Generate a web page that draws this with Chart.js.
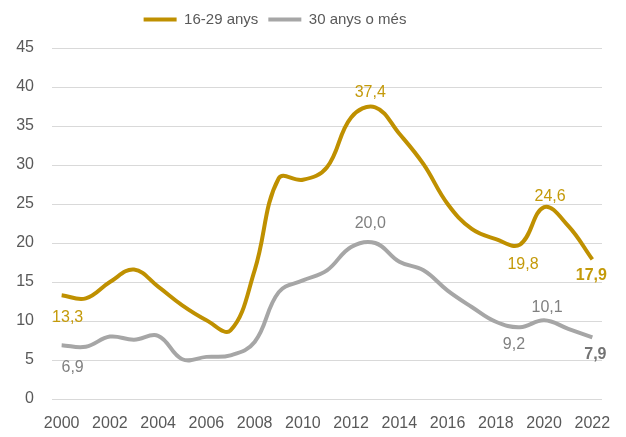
<!DOCTYPE html>
<html>
<head>
<meta charset="utf-8">
<script src="https://cdn.jsdelivr.net/npm/chart.js@4/dist/chart.umd.min.js"></script>
<style>
  html, body { margin: 0; padding: 0; background: #fff; }
  #wrap { width: 626px; height: 437px; position: relative; }
</style>
</head>
<body>
<div id="wrap"><canvas id="c" width="626" height="437"></canvas></div>
<script>
const years = [2000,2001,2002,2003,2004,2005,2006,2007,2008,2009,2010,2011,2012,2013,2014,2015,2016,2017,2018,2019,2020,2021,2022];
const young = [13.3,12.9,15.0,16.6,14.4,12.0,10.1,8.8,16.5,28.3,28.1,29.7,36.1,37.4,34.0,30.1,25.0,21.8,20.5,19.8,24.6,22.2,17.9];
const older = [6.9,6.7,8.0,7.6,8.1,5.1,5.4,5.6,7.3,13.7,15.2,16.5,19.5,20.0,17.6,16.5,13.9,11.8,9.9,9.2,10.1,9.0,7.9];
const seriesNames = ['16-29 anys', '30 anys o més'];
const yTicks = [0,5,10,15,20,25,30,35,40,45];

const GOLD = '#BF9000';
const GRAY = '#A6A6A6';
const FONT = "'Liberation Sans', Arial, sans-serif";

// labelled points: dataset, index, offsets (px), style
const pointLabels = [
  {ds:0, i:0,  dx:6,  dy:22,  color:'#C49A0A', bold:false},
  {ds:0, i:13, dx:-5, dy:-15, color:'#C49A0A', bold:false},
  {ds:0, i:19, dx:3,  dy:20,  color:'#C49A0A', bold:false},
  {ds:0, i:20, dx:6,  dy:-11, color:'#C49A0A', bold:false},
  {ds:0, i:22, dx:-1, dy:16,  color:'#C49A0A', bold:true},
  {ds:1, i:0,  dx:11, dy:22,  color:'#808080', bold:false},
  {ds:1, i:13, dx:-5, dy:-19, color:'#808080', bold:false},
  {ds:1, i:19, dx:-6, dy:17,  color:'#808080', bold:false},
  {ds:1, i:20, dx:3,  dy:-13, color:'#808080', bold:false},
  {ds:1, i:22, dx:3,  dy:17,  color:'#737373', bold:true}
];

const labelPlugin = {
  id: 'pointLabels',
  afterDatasetsDraw(chart) {
    const ctx = chart.ctx;
    ctx.save();
    ctx.textAlign = 'center';
    ctx.textBaseline = 'middle';
    pointLabels.forEach(l => {
      const meta = chart.getDatasetMeta(l.ds);
      const el = meta.data[l.i];
      const v = chart.data.datasets[l.ds].data[l.i].y;
      ctx.font = (l.bold ? 'bold ' : '') + '16px ' + FONT;
      ctx.fillStyle = l.color;
      ctx.fillText(v.toFixed(1).replace('.', ','), el.x + l.dx, el.y + l.dy);
    });
    ctx.restore();
  }
};

const legendAdjust = {
  id: 'legendAdjust',
  beforeInit(chart) {
    const lg = chart.legend;
    const fit = lg.fit;
    lg.fit = function() { fit.call(this); this.height += 11; };
  },
  afterLayout(chart) {
    const lg = chart.legend;
    lg.left -= 26; lg.right -= 26;
  }
};

const toPts = arr => years.map((y, k) => ({x: y, y: arr[k]}));

new Chart(document.getElementById('c'), {
  type: 'line',
  data: {
    datasets: [
      {label: seriesNames[0], data: toPts(young), borderColor: GOLD, backgroundColor: GOLD, borderWidth: 4, tension: 0.4, pointRadius: 0, fill: false},
      {label: seriesNames[1], data: toPts(older), borderColor: GRAY, backgroundColor: GRAY, borderWidth: 4, tension: 0.4, pointRadius: 0, fill: false}
    ]
  },
  options: {
    responsive: false,
    animation: false,
    devicePixelRatio: 1,
    layout: { padding: {left: 0, right: 24, top: 2, bottom: 4} },
    plugins: {
      tooltip: {enabled: false},
      legend: {
        position: 'top',
        align: 'center',
        labels: {
          font: {family: FONT, size: 15},
          color: '#595959',
          boxWidth: 33,
          boxHeight: 4,
          padding: 10,
          generateLabels(chart) {
            return chart.data.datasets.map((d, k) => ({
              text: d.label, fillStyle: d.borderColor, strokeStyle: d.borderColor,
              lineWidth: 0, datasetIndex: k, fontColor: '#595959'
            }));
          }
        }
      }
    },
    scales: {
      x: {
        type: 'linear',
        min: 1999.6, max: 2022.4,
        afterFit(scale) { scale.height = 34; },
        grid: {display: false, drawTicks: false},
        border: {display: false},
        ticks: {
          stepSize: 2, includeBounds: false,
          font: {family: FONT, size: 16}, color: '#595959',
          maxRotation: 0, padding: 15,
          callback: v => (Number.isInteger(v) && v % 2 === 0) ? String(v) : ''
        }
      },
      y: {
        min: 0, max: 45,
        afterFit(scale) { scale.width = 52; },
        afterBuildTicks(scale) { scale.ticks = yTicks.map(v => ({value: v})); },
        grid: {color: '#D9D9D9', lineWidth: 1, drawTicks: false},
        border: {display: false},
        ticks: {font: {family: FONT, size: 16}, color: '#595959', padding: 18}
      }
    }
  },
  plugins: [labelPlugin, legendAdjust]
});
</script>
</body>
</html>
